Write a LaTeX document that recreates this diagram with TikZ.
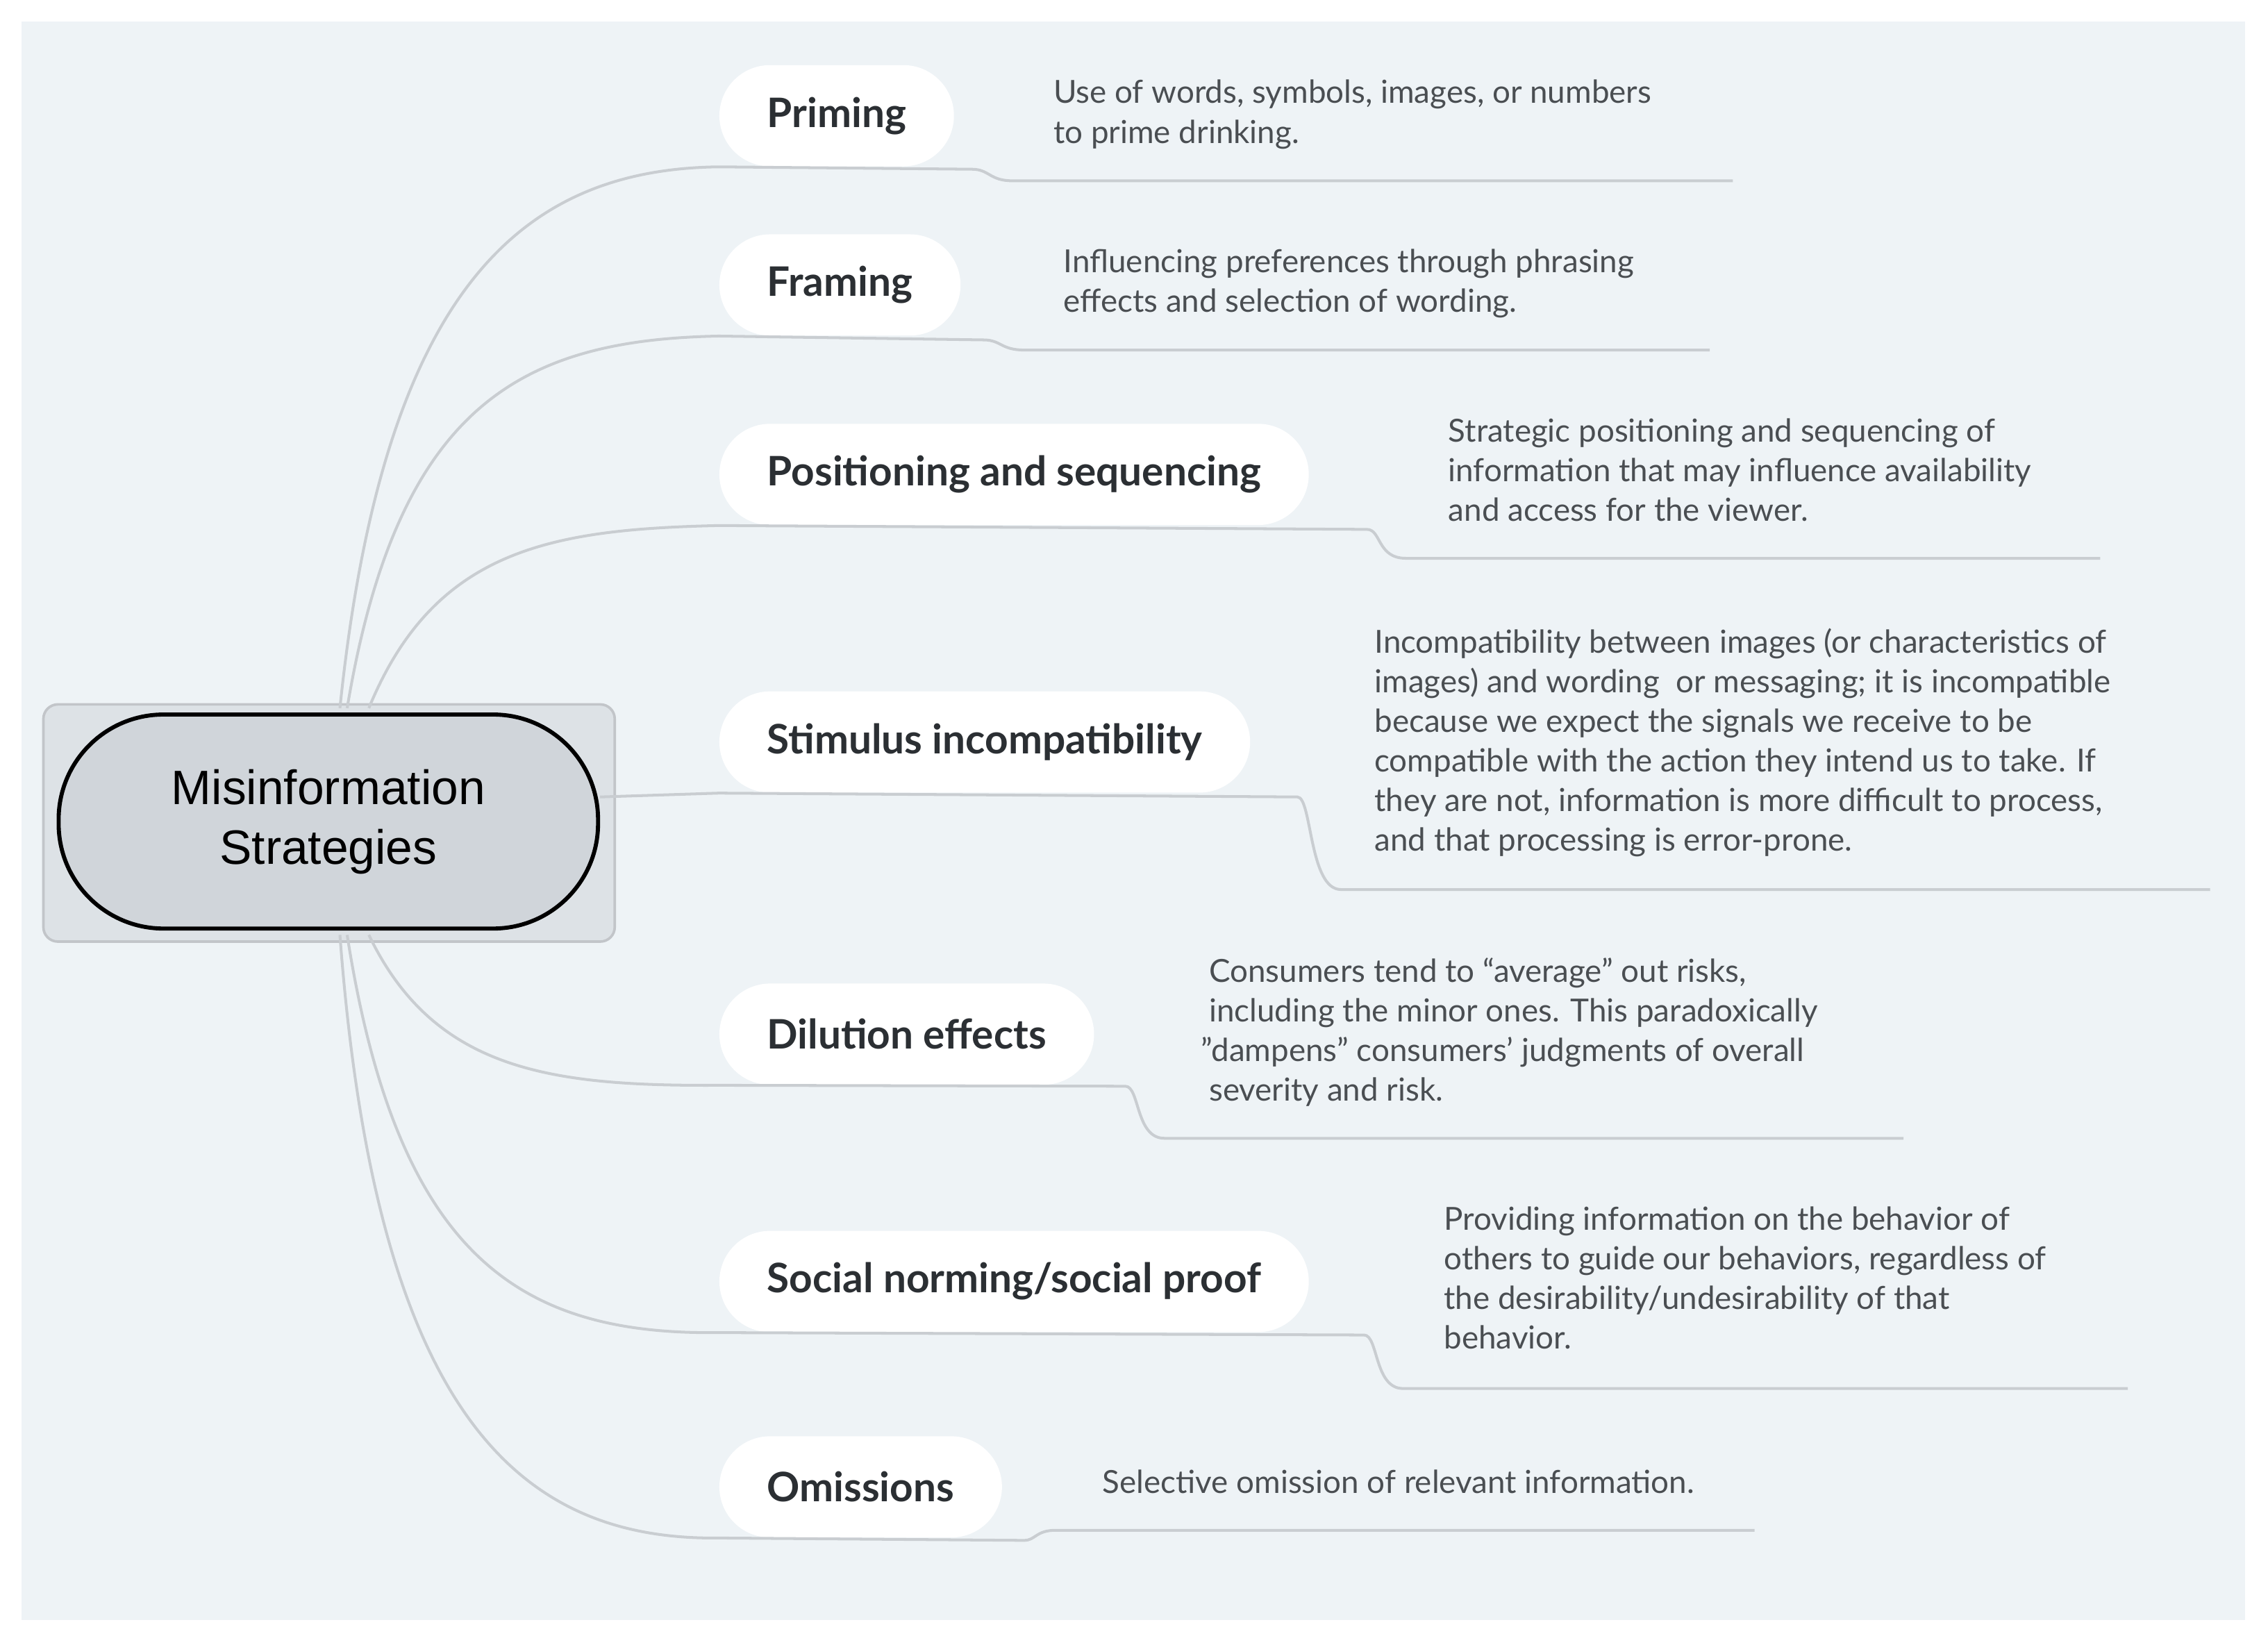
\documentclass[tikz,border=0pt]{standalone}
\usepackage{fontspec}
\setmainfont{Lato}
\newfontfamily\arialf{Liberation Sans}
\definecolor{bg}{HTML}{EEF3F6}
\definecolor{ln}{HTML}{C9CDD1}
\definecolor{tx}{HTML}{2B2F33}
\definecolor{dx}{HTML}{4A4E52}
\definecolor{cfill}{HTML}{D0D5DA}
\definecolor{cout}{HTML}{DDE2E6}
\begin{document}
\begin{tikzpicture}[x=0.02cm,y=-0.02cm,
  pill/.style={fill=white,draw=none,rounded corners=0.7cm,minimum height=1.4cm,inner xsep=0.66cm,anchor=west,font=\fontsize{16}{19}\selectfont\bfseries,text=tx},
  desc/.style={anchor=north west,align=left,inner sep=0pt,font=\fontsize{12.5}{15.6}\selectfont,text=dx},
  con/.style={draw=ln,line width=1.1pt}]
\useasboundingbox (0,0) rectangle (1568,1137);
\fill[bg] (15,15) rectangle (1552,1120);
% center
\draw[fill=cout,draw=ln!90!gray,line width=1pt,rounded corners=0.2cm] (30,487) rectangle (425,651);
\node[draw=black,line width=1.6pt,fill=cfill,rounded corners=1.45cm,minimum width=7.46cm,minimum height=2.96cm,align=center,font=\arialf\fontsize{19}{23.5}\selectfont] (c) at (227,568) {Misinformation\\Strategies};
% branch pills
\node[pill] (p1) at (497,80) {Priming};
\node[pill] (p2) at (497,197) {Framing};
\node[pill] (p3) at (497,328) {Positioning and sequencing};
\node[pill] (p4) at (497,513) {Stimulus incompatibility};
\node[pill] (p5) at (497,715) {Dilution effects};
\node[pill] (p6) at (497,886) {Social norming/social proof};
\node[pill] (p7) at (497,1028) {Omissions};
% descriptions
\node[desc] (d1) at (728,55) {Use of words, symbols, images, or numbers\\to prime drinking.};
\node[desc] (d2) at (735,172) {Influencing preferences through phrasing\\effects and selection of wording.};
\node[desc] (d3) at (1001,289) {Strategic positioning and sequencing of\\information that may influence availability\\and access for the viewer.};
\node[desc] (d4) at (950,434) {Incompatibility between images (or characteristics of\\images) and wording\ \ or messaging; it is incompatible\\because we expect the signals we receive to be\\compatible with the action they intend us to take. If\\they are not, information is more difficult to process,\\and that processing is error-prone.};
\node[desc] (d5) at (830,662) {\ Consumers tend to ``average'' out risks,\\\ including the minor ones. This paradoxically\\"dampens" consumers' judgments of overall\\\ severity and risk.};
\node[desc] (d6) at (998,834) {Providing information on the behavior of\\others to guide our behaviors, regardless of\\the desirability/undesirability of that\\behavior.};
\node[desc] (d7) at (762,1016) {Selective omission of relevant information.};
% coordinates
\coordinate (e1) at (1198,125);
\coordinate (e2) at (1182,242);
\coordinate (e3) at (1452,386);
\coordinate (e4) at (1528,615);
\coordinate (e5) at (1316,787);
\coordinate (e6) at (1471,960);
\coordinate (e7) at (1213,1058);
% connectors from center
\draw[con] (c.north)++(8,-3) .. controls (265,200) and (360,117) .. (p1.south west) -- (672,117) .. controls (684,117) and (684,125) .. (700,125) -- (e1);
\draw[con] (c.north)++(13,-3) .. controls (275,280) and (360,235) .. (p2.south west) -- (680,235) .. controls (692,235) and (692,242) .. (708,242) -- (e2);
\draw[con] (c.north)++(28,-3) .. controls (300,380) and (380,366) .. (p3.south west) -- (945,366) .. controls (955,366) and (952,386) .. (972,386) -- (e3);
\draw[con] (c.east) ++(0,-17) -- (p4.south west) -- (897,551) .. controls (907,551) and (905,615) .. (927,615) -- (e4);
\draw[con] (c.south)++(28,3) .. controls (300,740) and (380,751) .. (p5.south west) -- (778,751) .. controls (788,751) and (785,787) .. (805,787) -- (e5);
\draw[con] (c.south)++(13,3) .. controls (275,870) and (360,923) .. (p6.south west) -- (943,923) .. controls (953,923) and (950,960) .. (970,960) -- (e6);
\draw[con] (c.south)++(8,3) .. controls (260,980) and (360,1065) .. (p7.south west) -- (708,1065) .. controls (716,1065) and (716,1058) .. (730,1058) -- (e7);
\end{tikzpicture}
\end{document}
